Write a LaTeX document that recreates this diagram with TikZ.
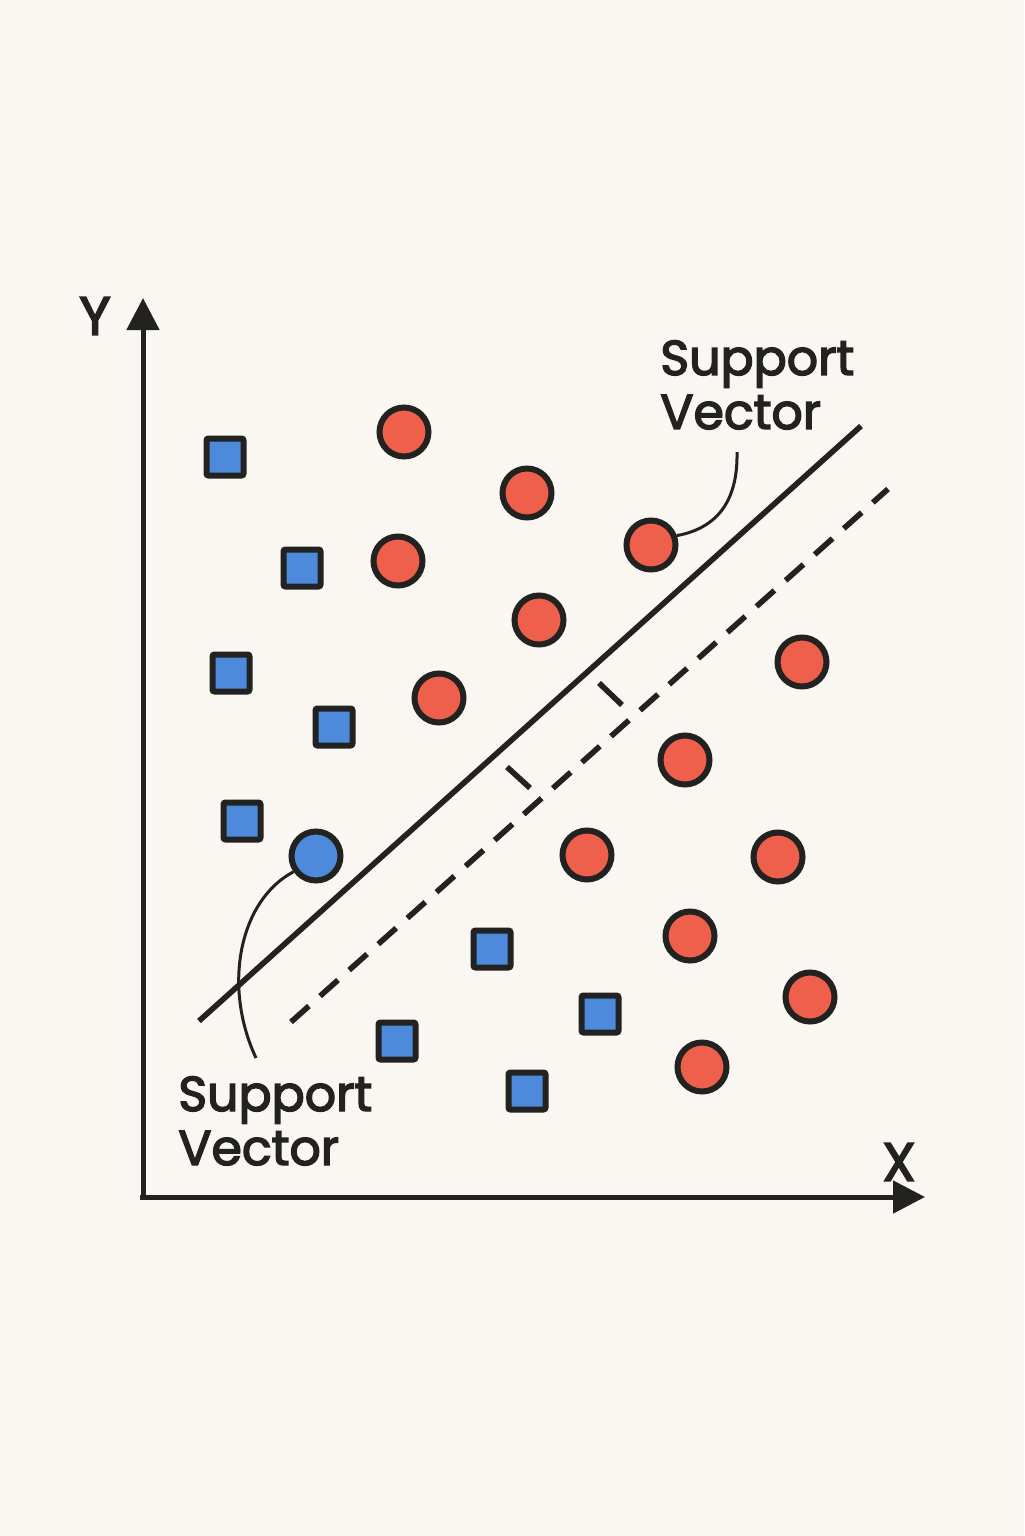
\documentclass[tikz,border=0pt]{standalone}
\usepackage{fontspec}
\setmainfont{Poppins}[FakeBold=3]
\usepackage{tikz}
\usetikzlibrary{arrows.meta,positioning}
\definecolor{SvmPaper}{HTML}{FAF7F3}
\definecolor{SvmInk}{HTML}{222220}
\definecolor{SvmRed}{HTML}{EE604B}
\definecolor{SvmBlue}{HTML}{4D8ADB}

\begin{document}
\begin{tikzpicture}[
  x=0.5pt,y=-0.5pt,
  every node/.style={font=\fontsize{24.5}{27}\selectfont,text=SvmInk},
  redpt/.style={circle,draw=SvmInk,fill=SvmRed,line width=3pt,
                minimum size=24.5pt,inner sep=0pt},
  bluept/.style={redpt,fill=SvmBlue},
  bluesq/.style={rectangle,draw=SvmInk,fill=SvmBlue,line width=3pt,
                 minimum size=18.5pt,inner sep=0pt,rounded corners=1pt},
  note/.style={align=left,inner sep=0pt},
  axis/.style={-{Triangle[length=16pt,width=16pt]},line width=2.5pt,SvmInk},
  plane/.style={line width=2.8pt,SvmInk},
  margin/.style={plane,dash pattern=on 12pt off 7.5pt},
  lead/.style={line width=1.5pt,SvmInk}
]
  \fill[SvmPaper] (0,0) rectangle (1024,1536);
  \useasboundingbox (0,0) rectangle (1024,1536);

  % axes
  \coordinate (origin) at (143,1197);
  \coordinate (ytip) at (143,298);
  \coordinate (xtip) at (925,1197);
  \draw[axis] (origin) -- (ytip);
  \draw[axis] ([xshift=-1.5pt]origin) -- (xtip);
  \node[font=\fontsize{27}{27}\selectfont] (ylab) at (95,316) {Y};
  \node[font=\fontsize{27}{27}\selectfont] (xlab) at (899,1162) {X};

  % separating line and margin
  \coordinate (planeA) at (199,1021);
  \coordinate (planeB) at (861,426);
  \coordinate (marginA) at (291,1022);
  \coordinate (marginB) at (888,489);
  \draw[plane] (planeA) -- (planeB);
  \draw[margin] (marginA) -- (marginB);
  \draw[plane] (507,767) -- (530,788);
  \draw[plane] (599,683) -- (622,705);

  % squares
  \node[bluesq] (sqA) at (225,457) {};
  \node[bluesq] (sqB) at (302,568) {};
  \node[bluesq] (sqC) at (231,673) {};
  \node[bluesq] (sqD) at (334,727) {};
  \node[bluesq] (sqE) at (242,821) {};
  \node[bluesq] (sqF) at (492,949) {};
  \node[bluesq] (sqG) at (600,1014) {};
  \node[bluesq] (sqH) at (397,1041) {};
  \node[bluesq] (sqI) at (527,1091) {};

  % circles
  \node[redpt] (rdA) at (404,432) {};
  \node[redpt] (rdB) at (527,493) {};
  \node[redpt] (rdC) at (398,561) {};
  \node[redpt] (svred) at (651,545) {};
  \node[redpt] (rdD) at (539,620) {};
  \node[redpt] (rdE) at (439,698) {};
  \node[redpt] (rdF) at (802,662) {};
  \node[redpt] (rdG) at (685,760) {};
  \node[redpt] (rdH) at (587,855) {};
  \node[redpt] (rdI) at (778,857) {};
  \node[redpt] (rdJ) at (690,936) {};
  \node[redpt] (rdK) at (810,997) {};
  \node[redpt] (rdL) at (702,1067) {};
  \node[bluept] (svblue) at (316,856) {};

  % labels
  \node[note,anchor=north west] (svtop) at (660,340) {Support\\Vector};
  \node[note,anchor=north west] (svbot) at (178,1076) {Support\\Vector};
  \coordinate (svtopend) at (737,452);
  \coordinate (svbotend) at (256,1058);
  \draw[lead] (svtopend) .. controls (738,500) and (718,528) .. (svred.20);
  \draw[lead] (svblue.215) .. controls (240,900) and (222,985) .. (svbotend);
\end{tikzpicture}
\end{document}
